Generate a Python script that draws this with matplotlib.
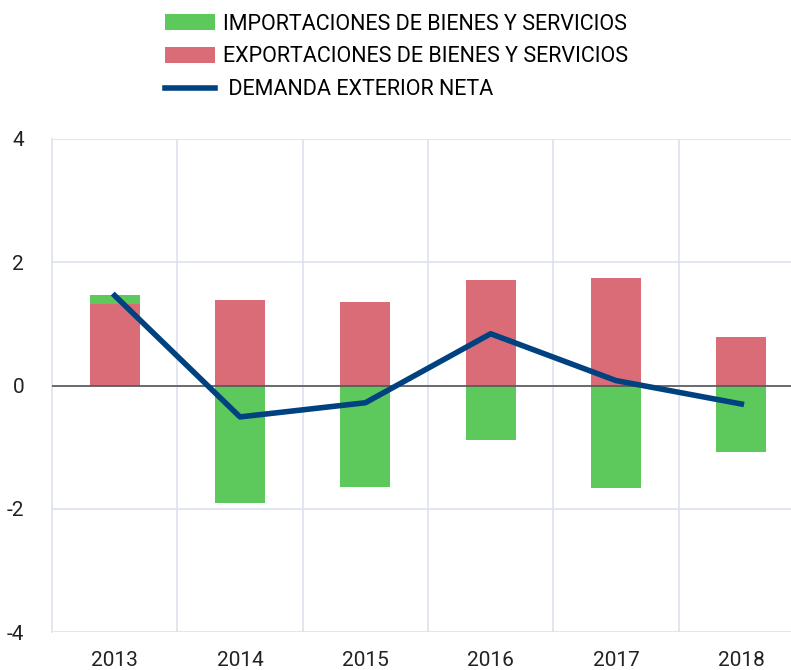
import numpy as np
import matplotlib.pyplot as plt
from matplotlib import font_manager

years = ["2013", "2014", "2015", "2016", "2017", "2018"]
importaciones = [0.15, -1.91, -1.65, -0.89, -1.66, -1.08]
exportaciones = [1.32, 1.39, 1.36, 1.71, 1.74, 0.78]
demanda_neta = [1.46, -0.51, -0.28, 0.84, 0.08, -0.30]

names = {f.name for f in font_manager.fontManager.ttflist}
family = "Liberation Sans Narrow" if "Liberation Sans Narrow" in names else "Roboto"
plt.rcParams["font.family"] = [family, "DejaVu Sans"]

green = "#5dc85b"
red = "#da6c78"
blue = "#00427f"
grid = "#dde1ee"

fig = plt.figure(figsize=(7.91, 6.70), dpi=100)
ax = fig.add_axes([52 / 791, 38 / 670, 752 / 791, 493 / 670])

x = np.arange(len(years))
imp = np.array(importaciones)
exp_ = np.array(exportaciones)
# positive imports sit on top of exports
imp_bottom = np.where(imp > 0, exp_, 0)

b_exp = ax.bar(x, exp_, width=0.4, color=red, zorder=2)
b_imp = ax.bar(x, imp, bottom=imp_bottom, width=0.4, color=green, zorder=2)
line, = ax.plot(x, demanda_neta, color=blue, lw=4, zorder=4)

ax.axhline(0, color="#555555", lw=1.2, zorder=3)

ax.set_xlim(-0.5, 5.5)
ax.set_ylim(-4, 4)
ax.set_yticks([-4, -2, 0, 2, 4])
ax.set_yticklabels(["-4", "-2", "0", "2", "4"])
ax.set_xticks(x)
ax.set_xticklabels(years)
ax.set_xticks(np.arange(0.5, 5.5, 1), minor=True)

ax.grid(axis="y", which="major", color=grid, lw=1.2, zorder=0)
ax.grid(axis="x", which="minor", color=grid, lw=1.2, zorder=0)
ax.tick_params(axis="both", which="both", length=0, labelsize=15, colors="#222222")
ax.tick_params(axis="y", pad=20)
ax.tick_params(axis="x", pad=14)
for side in ["top", "right", "bottom"]:
    ax.spines[side].set_visible(False)
ax.spines["left"].set_color(grid)
ax.spines["left"].set_linewidth(1.2)

fig.legend([b_imp, b_exp, line],
           ["IMPORTACIONES DE BIENES Y SERVICIOS",
            "EXPORTACIONES DE BIENES Y SERVICIOS",
            " DEMANDA EXTERIOR NETA"],
           loc="upper left", bbox_to_anchor=(156 / 791, 1 - 5 / 670),
           frameon=False, fontsize=15.5, handlelength=2.35, handleheight=0.75,
           handletextpad=0.35, labelspacing=0.55, borderaxespad=0)

fig.savefig("out.png", dpi=100)
